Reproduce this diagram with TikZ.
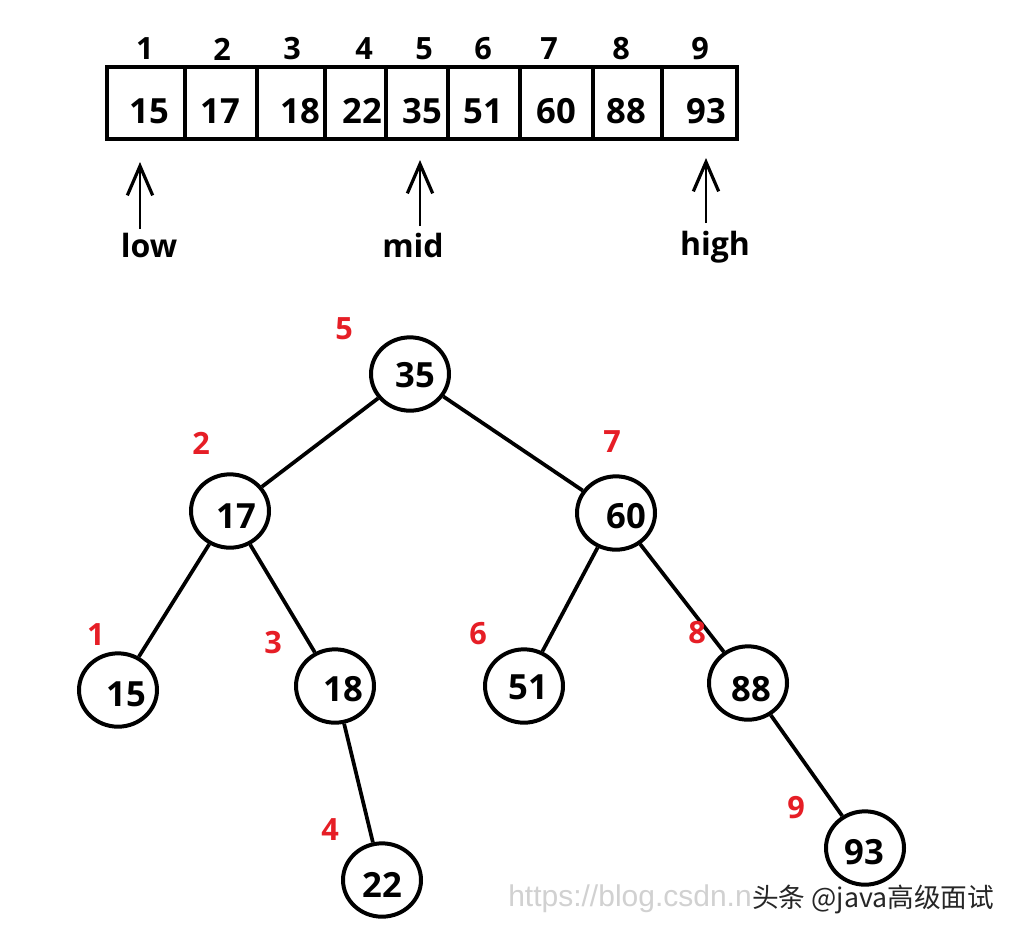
\documentclass[tikz,border=0pt]{standalone}
\usepackage{fontspec}
\setmainfont{Open Sans}
\newfontfamily\cjk{Noto Sans CJK SC}
\newfontfamily\thinsans{Liberation Sans}
\usetikzlibrary{shapes.geometric,arrows.meta}
\definecolor{idxred}{RGB}{230,30,38}
\begin{document}
\begin{tikzpicture}[x=0.75pt,y=-0.75pt,
  cellbox/.style={draw, line width=3pt, minimum height=54pt, inner sep=0pt},
  val/.style={font=\bfseries\fontsize{26}{30}\selectfont, inner sep=0pt},
  idx/.style={font=\bfseries\fontsize{23}{26}\selectfont, inner sep=0pt},
  ptr/.style={font=\bfseries\fontsize{24}{28}\selectfont, inner sep=0pt},
  ptrarrow/.style={line width=2.2pt, -{Straight Barb[length=22pt,width=19pt,line width=2.4pt]}},
  tnode/.style={draw, ellipse, line width=3pt, minimum width=58.5pt, minimum height=55pt, inner sep=0pt},
  tval/.style={font=\bfseries\fontsize{26}{30}\selectfont, inner sep=0pt},
  order/.style={font=\bfseries\fontsize{23}{26}\selectfont, text=idxred, inner sep=0pt},
  edge/.style={line width=2.8pt}
]
\path[fill=white] (0,0) rectangle (1016,936);
\useasboundingbox (0,0) rectangle (1016,936);

% array cells
\node[cellbox, minimum width=58.5pt] (c1) at (146,103) {};
\node[cellbox, minimum width=54pt]   (c2) at (221,103) {};
\node[cellbox, minimum width=51pt]   (c3) at (291,103) {};
\node[cellbox, minimum width=45.75pt] (c4) at (355.5,103) {};
\node[cellbox, minimum width=46.5pt] (c5) at (417,103) {};
\node[cellbox, minimum width=54pt]   (c6) at (484,103) {};
\node[cellbox, minimum width=54.75pt] (c7) at (556.5,103) {};
\node[cellbox, minimum width=51.75pt] (c8) at (627.5,103) {};
\node[cellbox, minimum width=56.25pt] (c9) at (699.5,103) {};

% values
\node[val] (v1) at (149,111) {15};
\node[val] (v2) at (220,111) {17};
\node[val] (v3) at (300,111) {18};
\node[val] (v4) at (362,111) {22};
\node[val] (v5) at (422,111) {35};
\node[val] (v6) at (483,111) {51};
\node[val] (v7) at (556,111) {60};
\node[val] (v8) at (626,111) {88};
\node[val] (v9) at (706,111) {93};

% indices
\node[idx] (i1) at (145,49) {1};
\node[idx] (i2) at (222,49) {2};
\node[idx] (i3) at (292,49) {3};
\node[idx] (i4) at (364,49) {4};
\node[idx] (i5) at (424,49) {5};
\node[idx] (i6) at (483,49) {6};
\node[idx] (i7) at (549,49) {7};
\node[idx] (i8) at (621,49) {8};
\node[idx] (i9) at (700,49) {9};

% pointers
\node[ptr] (low) at (149,245) {low};
\node[ptr] (mid) at (413,245) {mid};
\node[ptr] (high) at (715,247) {high};
\coordinate (lowtail) at (140,229);
\coordinate (lowtip) at (140,162);
\coordinate (midtail) at (420,226);
\coordinate (midtip) at (420,160);
\coordinate (hightail) at (706,223);
\coordinate (hightip) at (706,158);
\draw[ptrarrow] (lowtail) -- (lowtip);
\draw[ptrarrow] (midtail) -- (midtip);
\draw[ptrarrow] (hightail) -- (hightip);

% tree nodes
\node[tnode] (n35) at (410,374) {};
\node[tnode] (n17) at (230,511) {};
\node[tnode] (n60) at (616,513) {};
\node[tnode] (n15) at (118,690) {};
\node[tnode] (n18) at (335,686) {};
\node[tnode] (n51) at (524,686) {};
\node[tnode] (n88) at (748,683) {};
\node[tnode] (n22) at (382,880) {};
\node[tnode] (n93) at (865,848) {};

\node[tval] at (415,375) {35};
\node[tval] at (236,516) {17};
\node[tval] at (626,516) {60};
\node[tval] at (126,694) {15};
\node[tval] at (343,689) {18};
\node[tval] at (528,687) {51};
\node[tval] at (751,689) {88};
\node[tval] at (382,885) {22};
\node[tval] at (864,852) {93};

% edges
\draw[edge] (n35) -- (n17);
\draw[edge] (n35) -- (n60);
\draw[edge] (n17) -- (n15);
\draw[edge] (n17) -- (n18);
\draw[edge] (n18) -- (n22);
\draw[edge] (n60) -- (n51);
\draw[edge] (n60) -- (n88);
\draw[edge] (n88) -- (n93);

% order labels
\node[order] (o5) at (344,329) {5};
\node[order] (o2) at (201,443) {2};
\node[order] (o7) at (612,442) {7};
\node[order] (o1) at (96,635) {1};
\node[order] (o3) at (273,643) {3};
\node[order] (o6) at (478,634) {6};
\node[order] (o8) at (697,633) {8};
\node[order] (o4) at (330,830) {4};
\node[order] (o9) at (796,808) {9};

% watermarks
\node[anchor=west, inner sep=0pt, text=black!18, font=\thinsans\fontsize{22.5}{26}\selectfont] (wm1) at (508,899) {https://blog.csdn.n};
\node[anchor=west, inner sep=0pt, text=black!85, font=\cjk\fontsize{20}{22}\selectfont] (wm2) at (752,899) {头条 @java高级面试};
\end{tikzpicture}
\end{document}
